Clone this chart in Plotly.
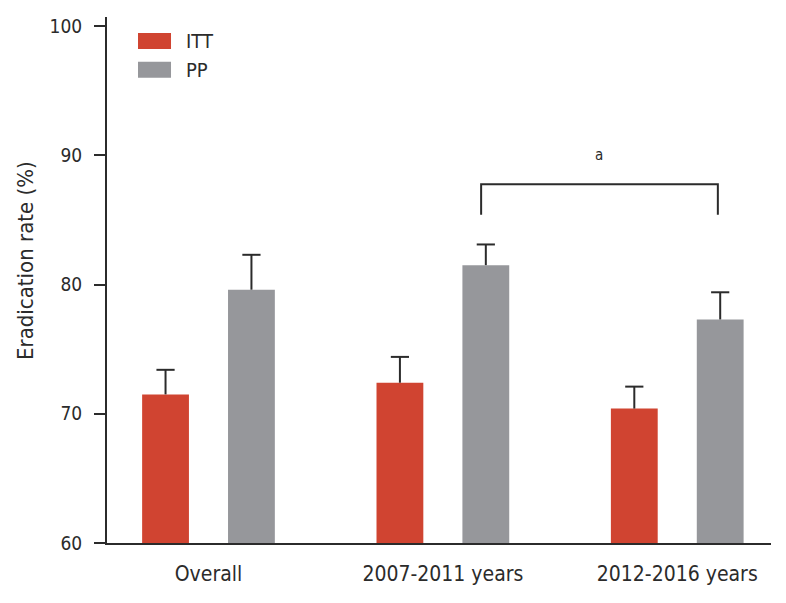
import plotly.graph_objects as go

categories = ["Overall", "2007-2011 years", "2012-2016 years"]
itt_values = [71.5, 72.4, 70.4]
itt_upper = [73.4, 74.4, 72.1]
pp_values = [79.6, 81.5, 77.3]
pp_upper = [82.3, 83.1, 79.4]
y_ticks = [60, 70, 80, 90, 100]
bracket_groups = [1, 2]
bracket_y = [85.4, 87.75]
bracket_label = "a"

RED = "#d04431"
GRAY = "#96979b"
DARK = "#2b2b2b"
FONT = "Liberation Sans Narrow, DejaVu Sans Condensed, Arial Narrow, sans-serif"

BARGAP = 0.267
BARGROUPGAP = 0.455
offset = (1 - BARGAP) / 4
xs = list(range(len(categories)))

fig = go.Figure()
fig.add_trace(go.Bar(x=xs, y=itt_values, name="ITT", marker=dict(color=RED, line=dict(width=0)), showlegend=False))
fig.add_trace(go.Bar(x=xs, y=pp_values, name="PP", marker=dict(color=GRAY, line=dict(width=0)), showlegend=False))

# upward-only error bars
for vals, ups, sign in [(itt_values, itt_upper, -1), (pp_values, pp_upper, 1)]:
    lx, ly = [], []
    for i, (v, u) in enumerate(zip(vals, ups)):
        lx += [i + sign * offset, i + sign * offset, None]
        ly += [v, u, None]
    fig.add_trace(go.Scatter(x=lx, y=ly, mode="lines", line=dict(color=DARK, width=2),
                             showlegend=False, hoverinfo="skip"))
    fig.add_trace(go.Scatter(x=[i + sign * offset for i in xs], y=ups, mode="markers",
                             marker=dict(symbol="line-ew", size=13, line=dict(color=DARK, width=2)),
                             showlegend=False, hoverinfo="skip"))

# significance bracket
bx0 = bracket_groups[0] + offset - 0.02
bx1 = bracket_groups[1] + offset - 0.01
fig.add_trace(go.Scatter(x=[bx0, bx0, bx1, bx1], y=[bracket_y[0], bracket_y[1], bracket_y[1], bracket_y[0]],
                         mode="lines", line=dict(color=DARK, width=2), showlegend=False, hoverinfo="skip"))
fig.add_annotation(x=(bx0 + bx1) / 2, y=90.0, text=bracket_label, showarrow=False,
                   font=dict(size=15, color=DARK, family=FONT), xref="x", yref="y")

# legend drawn manually
legend_items = [("ITT", RED, 0.9697, 0.9394), ("PP", GRAY, 0.9148, 0.8845)]
for name, col, yt, yb in legend_items:
    fig.add_shape(type="rect", xref="paper", yref="paper", x0=0.0467, x1=0.0964, y0=yb, y1=yt,
                  fillcolor=col, line=dict(width=0))
    fig.add_annotation(xref="paper", yref="paper", x=0.116, y=(yt + yb) / 2, text=name,
                       showarrow=False, xanchor="left", yanchor="middle",
                       font=dict(size=20, color=DARK, family=FONT))

# y axis title
fig.add_annotation(xref="paper", yref="paper", x=-0.1235, y=0.538, text="Eradication rate (%)",
                   textangle=-90, showarrow=False, xanchor="center", yanchor="middle",
                   font=dict(size=22, color=DARK, family=FONT))

fig.update_layout(
    width=786, height=603,
    margin=dict(l=99, r=23, t=7, b=68),
    paper_bgcolor="white", plot_bgcolor="white",
    barmode="group", bargap=BARGAP, bargroupgap=BARGROUPGAP,
    font=dict(family=FONT, color=DARK),
)
fig.update_xaxes(range=[-0.433, 2.40], tickvals=xs, ticktext=categories,
                 showline=True, linecolor=DARK, linewidth=2, ticks="", showgrid=False, zeroline=False,
                 tickfont=dict(size=21, color=DARK, family=FONT), ticklabelstandoff=11)
fig.update_yaxes(range=[60, 100.7], tickvals=y_ticks, showline=True, linecolor=DARK, linewidth=2,
                 ticks="outside", ticklen=11, tickwidth=2, tickcolor=DARK, showgrid=False, zeroline=False,
                 tickfont=dict(size=19, color=DARK, family=FONT), ticklabelstandoff=8)

fig.write_html("out.html")
